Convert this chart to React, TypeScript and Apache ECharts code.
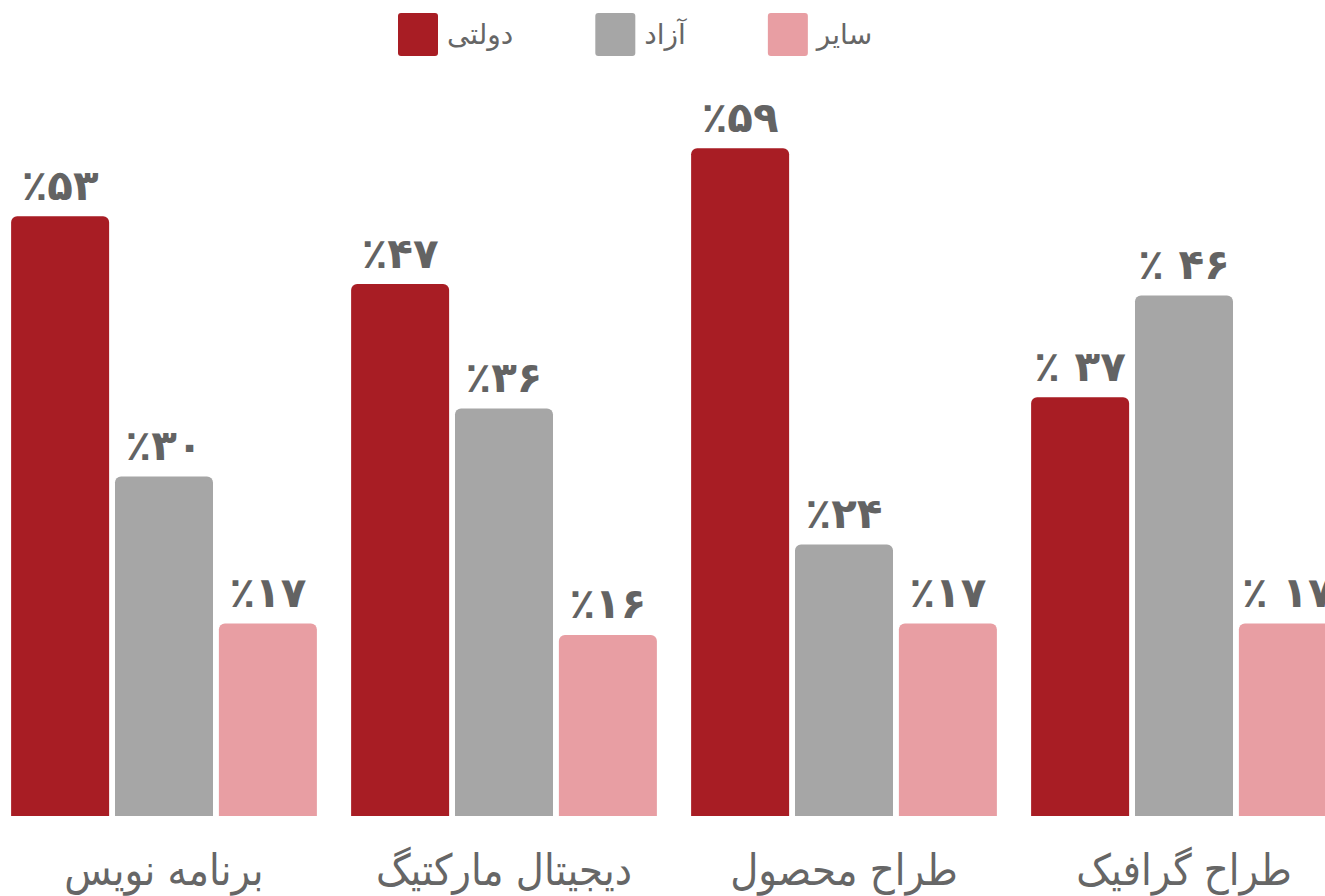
import React, { useEffect, useRef } from "react";
import * as echarts from "echarts";

const categories = ["برنامه نویس", "دیجیتال مارکتیگ", "طراح محصول", "طراح گرافیک"];
const seriesNames = ["دولتی", "آزاد", "سایر"];
const govValues = [53, 47, 59, 37];
const freeValues = [30, 36, 24, 46];
const otherValues = [17, 16, 17, 17];
const govLabels = ["٪۵۳", "٪۴۷", "٪۵۹", "٪ ۳۷"];
const freeLabels = ["٪۳۰", "٪۳۶", "٪۲۴", "٪ ۴۶"];
const otherLabels = ["٪۱۷", "٪۱۶", "٪۱۷", "٪ ۱۷"];
const colors = ["#a81d24", "#a6a6a6", "#e89ea3"];

export default function App() {
  const ref = useRef<HTMLDivElement>(null);
  useEffect(() => {
    if (!ref.current) return;
    const chart = echarts.init(ref.current, null, { renderer: "svg" });
    const mk = (i: number, values: number[], labels: string[]) => ({
      name: seriesNames[i],
      type: "bar",
      data: values,
      barWidth: 98,
      barGap: "6%",
      itemStyle: { color: colors[i], borderRadius: [6, 6, 0, 0] },
      label: {
        show: true,
        position: "top",
        distance: 10,
        color: "#636363",
        fontSize: 42,
        fontWeight: "bold",
        fontFamily: "DejaVu Sans",
        formatter: (p: any) => labels[p.dataIndex],
      },
    });
    chart.setOption({
      animation: false,
      backgroundColor: "#ffffff",
      color: colors,
      legend: {
        left: 393,
        top: 8,
        itemWidth: 40,
        itemHeight: 43,
        itemGap: 82,
        icon: "path://M3,0 L37,0 Q40,0 40,3 L40,40 Q40,43 37,43 L3,43 Q0,43 0,40 L0,3 Q0,0 3,0 Z",
        textStyle: {
          fontSize: 28,
          color: "#666666",
          fontFamily: "DejaVu Sans",
          padding: [10, 0, 0, 4],
        },
        data: seriesNames,
      },
      grid: { left: -6, right: -29, top: 137, bottom: 80, outerBoundsMode: "none" } as any,
      xAxis: {
        type: "category",
        data: categories,
        axisLine: { show: false },
        axisTick: { show: false },
        axisLabel: {
          interval: 0,
          hideOverlap: false,
          margin: 32,
          fontSize: 43,
          color: "#666666",
          fontFamily: "DejaVu Sans Condensed",
        },
      },
      yAxis: {
        type: "value",
        min: 0,
        max: 60,
        show: false,
        splitLine: { show: false },
      },
      series: [mk(0, govValues, govLabels), mk(1, freeValues, freeLabels), mk(2, otherValues, otherLabels)],
    });
    return () => chart.dispose();
  }, []);
  return (
    <div
      ref={ref}
      style={{ position: "absolute", left: 0, top: 0, width: 1325, height: 896 }}
    />
  );
}
